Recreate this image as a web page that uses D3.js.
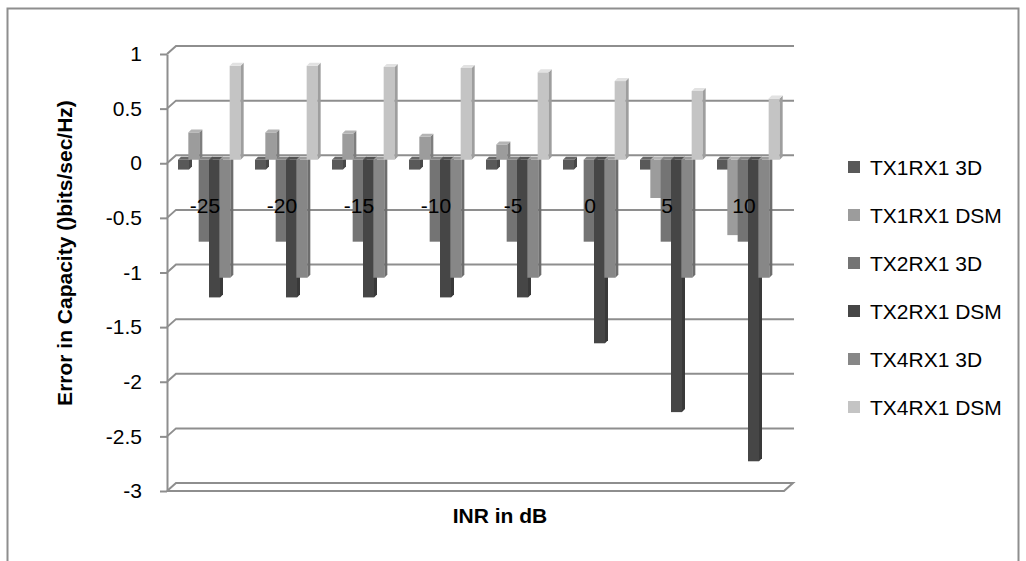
<!DOCTYPE html>
<html>
<head>
<meta charset="utf-8">
<script src="https://cdn.jsdelivr.net/npm/d3@7"></script>
<style>
  body { margin: 0; background: #fff; }
  text { font-family: 'Liberation Sans', Arial, sans-serif; fill: #000; }
</style>
</head>
<body>
<div id="graf"></div>
<script>
// I. Datos
categorias = ['-25', '-20', '-15', '-10', '-5', '0', '5', '10']
series = ['TX1RX1 3D', 'TX1RX1 DSM', 'TX2RX1 3D', 'TX2RX1 DSM', 'TX4RX1 3D', 'TX4RX1 DSM']
tx1rx1_3d  = [-0.09, -0.09, -0.09, -0.09, -0.09, -0.09, -0.09, -0.09]
tx1rx1_dsm = [0.25, 0.25, 0.24, 0.21, 0.14, 0, -0.35, -0.69]
tx2rx1_3d  = [-0.75, -0.75, -0.75, -0.75, -0.75, -0.75, -0.75, -0.75]
tx2rx1_dsm = [-1.26, -1.26, -1.26, -1.26, -1.26, -1.68, -2.31, -2.76]
tx4rx1_3d  = [-1.08, -1.08, -1.08, -1.08, -1.08, -1.08, -1.08, -1.08]
tx4rx1_dsm = [0.86, 0.86, 0.85, 0.84, 0.80, 0.72, 0.63, 0.56]
valores = [tx1rx1_3d, tx1rx1_dsm, tx2rx1_3d, tx2rx1_dsm, tx4rx1_3d, tx4rx1_dsm]
colores = ['#595959', '#9c9c9c', '#747474', '#464646', '#878787', '#c4c4c4']
ticks = [1, 0.5, 0, -0.5, -1, -1.5, -2, -2.5, -3]

// II. Configuración
ancho_total = 1026
alto_total = 561
gris = '#8e8e8e'
fondo = { dx: 9, dy: -8 }   // desplazamiento de la pared del fondo
prof = 3                    // profundidad de cada barra
desfaseBarra = -3.5         // las barras están a media profundidad

svg = d3.select('#graf').append('svg')
  .attr('width', ancho_total)
  .attr('height', alto_total)

// borde del gráfico
svg.append('rect')
  .attr('x', 7.5).attr('y', 8.5)
  .attr('width', 1011).attr('height', 570)
  .attr('fill', 'none').attr('stroke', gris).attr('stroke-width', 2)

y = d3.scaleLinear().domain([-3, 1]).range([491, 54])
x0 = d3.scaleBand().domain(categorias).range([178, 794])
x1 = d3.scaleBand().domain(series).range([0, 62])
color = d3.scaleOrdinal().domain(series).range(colores)

// III. Paredes y rejilla
grid = svg.append('g')
ticks.forEach(t => {
  yf = y(t)
  if (t == -3) {
    // piso
    grid.append('path')
      .attr('d', `M167,${yf} L784,${yf} L${784 + fondo.dx},${yf + fondo.dy} L${176},${yf + fondo.dy} L167,${yf}`)
      .attr('fill', 'none').attr('stroke', gris).attr('stroke-width', 2)
  } else {
    grid.append('path')
      .attr('d', `M167,${yf} L${167 + fondo.dx},${yf + fondo.dy} L794,${yf + fondo.dy}`)
      .attr('fill', 'none').attr('stroke', gris).attr('stroke-width', 2)
  }
})

// Eje Y
yAxis = d3.axisLeft(y).tickValues(ticks).tickFormat(d => String(d))
  .tickSize(7).tickSizeOuter(0).tickPadding(18)
ejeY = svg.append('g')
  .attr('transform', 'translate(167,0)')
  .call(yAxis)
ejeY.selectAll('path, line').attr('stroke', gris).attr('stroke-width', 2)
ejeY.selectAll('text').attr('font-size', '21px').style('font-family', "'Liberation Sans', Arial, sans-serif")

// IV. Barras 3D
yb = v => y(v) + desfaseBarra
datos = []
categorias.forEach((c, i) => {
  series.forEach((s, j) => {
    datos.push({ cat: c, serie: s, valor: valores[j][i] })
  })
})

ancho = 11
barras = svg.append('g').selectAll('g')
  .data(datos.filter(d => d.valor != 0))
  .join('g')

barras.each(function(d) {
  g = d3.select(this)
  xa = x0(d.cat) + x1(d.serie)
  arriba = yb(Math.max(0, d.valor))
  abajo = yb(Math.min(0, d.valor))
  c = d3.color(color(d.serie))
  // cara frontal
  g.append('rect')
    .attr('x', xa).attr('y', arriba)
    .attr('width', ancho).attr('height', abajo - arriba)
    .attr('fill', c.formatHex())
  // lado derecho
  g.append('path')
    .attr('d', `M${xa + ancho},${arriba} L${xa + ancho + prof},${arriba - prof} L${xa + ancho + prof},${abajo - prof} L${xa + ancho},${abajo}Z`)
    .attr('fill', c.darker(0.6).formatHex())
  // tapa
  g.append('path')
    .attr('d', `M${xa},${arriba} L${xa + prof},${arriba - prof} L${xa + ancho + prof},${arriba - prof} L${xa + ancho},${arriba}Z`)
    .attr('fill', c.brighter(0.4).formatHex())
})

// etiquetas de categoría
svg.append('g').selectAll('text')
  .data(categorias)
  .join('text')
  .attr('x', d => x0(d) + 27)
  .attr('y', 213)
  .attr('text-anchor', 'middle')
  .attr('font-size', '21px')
  .text(d => d)

// V. Títulos
svg.append('text')
  .attr('transform', 'translate(72,253) rotate(-90)')
  .attr('text-anchor', 'middle')
  .attr('font-size', '21px')
  .attr('font-weight', 'bold')
  .text('Error in Capacity ()bits/sec/Hz)')

svg.append('text')
  .attr('x', 500).attr('y', 523)
  .attr('text-anchor', 'middle')
  .attr('font-size', '21px')
  .attr('font-weight', 'bold')
  .text('INR in dB')

// VI. Leyenda
leyenda = svg.append('g').selectAll('g')
  .data(series)
  .join('g')
  .attr('transform', (d, i) => `translate(848,${167 + i * 48})`)

leyenda.append('rect')
  .attr('x', 0).attr('y', -6)
  .attr('width', 12).attr('height', 12)
  .attr('fill', d => color(d))

leyenda.append('text')
  .attr('x', 22).attr('y', 0)
  .attr('dy', '0.36em')
  .attr('font-size', '21px')
  .text(d => d)
</script>
</body>
</html>
